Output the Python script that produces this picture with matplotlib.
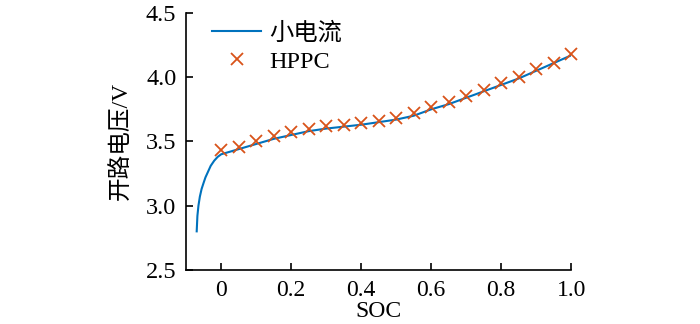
import matplotlib
matplotlib.use("Agg")
import matplotlib.pyplot as plt

# small-current OCV curve
soc_curve = [-0.070, -0.068, -0.065, -0.061, -0.056, -0.050, -0.045, -0.040, -0.035, -0.030,
             -0.025, -0.020, -0.015, -0.010, -0.005, 0.000, 0.05, 0.10, 0.15, 0.20, 0.25,
             0.30, 0.35, 0.40, 0.45, 0.50, 0.55, 0.60, 0.65, 0.70, 0.75, 0.80, 0.85,
             0.90, 0.95, 1.00]
ocv_curve = [2.80, 2.92, 3.00, 3.07, 3.13, 3.18, 3.22, 3.25, 3.28, 3.31,
             3.33, 3.35, 3.365, 3.38, 3.39, 3.40, 3.44, 3.48, 3.52, 3.55, 3.58,
             3.60, 3.615, 3.63, 3.65, 3.67, 3.70, 3.75, 3.79, 3.84, 3.89, 3.94, 3.99,
             4.05, 4.11, 4.17]

# HPPC points
soc_hppc = [0.00, 0.05, 0.10, 0.15, 0.20, 0.25, 0.30, 0.35, 0.40, 0.45, 0.50,
            0.55, 0.60, 0.65, 0.70, 0.75, 0.80, 0.85, 0.90, 0.95, 1.00]
ocv_hppc = [3.43, 3.46, 3.50, 3.54, 3.57, 3.60, 3.62, 3.63, 3.64, 3.66, 3.68,
            3.72, 3.77, 3.81, 3.85, 3.90, 3.955, 4.00, 4.06, 4.11, 4.18]

xticks = [0, 0.2, 0.4, 0.6, 0.8, 1.0]
xticklabels = ["0", "0.2", "0.4", "0.6", "0.8", "1.0"]
yticks = [2.5, 3.0, 3.5, 4.0, 4.5]
yticklabels = ["2.5", "3.0", "3.5", "4.0", "4.5"]

fam = ["Liberation Serif", "Noto Sans CJK SC"]
plt.rcParams["font.family"] = fam
plt.rcParams["font.size"] = 17.5

fig = plt.figure(figsize=(7, 3.24), dpi=100)
ax = fig.add_axes([0.266, 0.167, 0.550, 0.793])

ax.plot(soc_curve, ocv_curve, color="#0072BD", lw=1.5, label="小电流")
ax.plot(soc_hppc, ocv_hppc, ls="none", marker="x", ms=9, mew=1.3,
        color="#D95319", label="HPPC", clip_on=False)

ax.set_xlim(-0.1, 1.0)
ax.set_ylim(2.5, 4.5)
ax.set_xticks(xticks)
ax.set_xticklabels(xticklabels)
ax.set_yticks(yticks)
ax.set_yticklabels(yticklabels)
ax.tick_params(direction="in", length=5, width=1.2, labelsize=17.5)
ax.tick_params(axis="x", pad=7, labelsize=17)
ax.tick_params(axis="y", pad=7)
for s in ["top", "right"]:
    ax.spines[s].set_visible(False)
for s in ["left", "bottom"]:
    ax.spines[s].set_linewidth(1.2)

ax.set_xlabel("SOC", fontsize=17, labelpad=0)
ax.set_ylabel("开路电压/V", fontsize=17, labelpad=10, fontweight="light")

ax.legend(loc="upper left", frameon=False, fontsize=17.5, handlelength=2.0,
          handletextpad=0.35, borderaxespad=0.2, labelspacing=0.25,
          bbox_to_anchor=(0.03, 1.02))

fig.savefig("out.png", dpi=100)
